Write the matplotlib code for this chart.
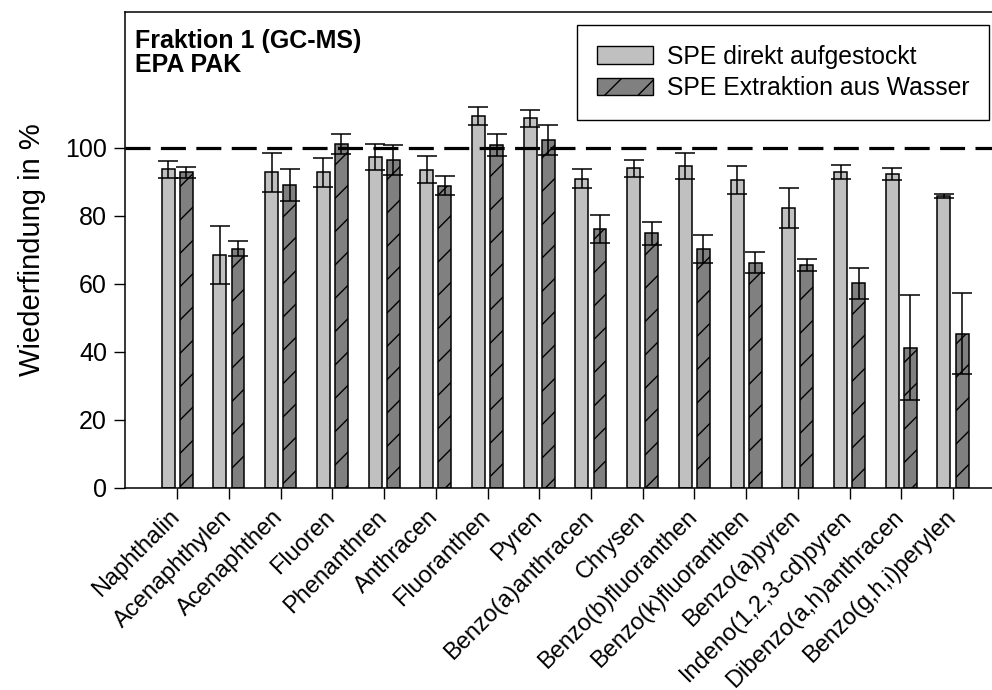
import numpy as np
import matplotlib
matplotlib.use("Agg")
import matplotlib.pyplot as plt
from matplotlib.patches import Patch
from matplotlib.transforms import ScaledTranslation

plt.rcParams['font.family'] = ['Liberation Sans', 'DejaVu Sans']
plt.rcParams['hatch.linewidth'] = 1.0
plt.rcParams['lines.scale_dashes'] = False

compounds = [
    "Naphthalin", "Acenaphthylen", "Acenaphthen", "Fluoren", "Phenanthren",
    "Anthracen", "Fluoranthen", "Pyren", "Benzo(a)anthracen", "Chrysen",
    "Benzo(b)fluoranthen", "Benzo(k)fluoranthen", "Benzo(a)pyren",
    "Indeno(1,2,3-cd)pyren", "Dibenzo(a,h)anthracen", "Benzo(g,h,i)perylen",
]

# recovery in %, SPE spiked directly
direkt_mean = [93.7, 68.5, 92.8, 92.8, 97.4, 93.6, 109.4, 108.7,
               90.9, 94.0, 94.6, 90.6, 82.4, 92.9, 92.3, 85.9]
direkt_sd = [2.5, 8.5, 5.8, 4.2, 3.8, 3.9, 2.6, 2.4,
             2.8, 2.4, 3.8, 4.0, 5.8, 2.1, 1.7, 0.6]

# recovery in %, SPE extraction from water
wasser_mean = [92.8, 70.3, 89.0, 101.1, 96.5, 88.9, 100.8, 102.3,
               76.1, 74.9, 70.3, 66.2, 65.6, 60.2, 41.3, 45.4]
wasser_sd = [1.5, 2.2, 4.7, 2.9, 4.5, 2.8, 3.2, 4.4,
             4.1, 3.3, 4.1, 3.1, 1.7, 4.5, 15.5, 12.0]

labels = ["SPE direkt aufgestockt", "SPE Extraktion aus Wasser"]

fig = plt.figure(figsize=(9.92, 6.90), dpi=100)
ax = fig.add_axes([0.126, 0.2928, 1.005 - 0.126, 0.9826 - 0.2928])

x = np.arange(len(compounds))
w = 0.25
off = 0.175
light = "#c0c0c0"
dark = "#808080"

ax.bar(x - off, direkt_mean, w, color=light, edgecolor="black", linewidth=1.1, zorder=2)
ax.bar(x + off, wasser_mean, w, color=dark, edgecolor="black", linewidth=1.1,
       hatch="/", zorder=2)

ax.errorbar(x - off, direkt_mean, yerr=direkt_sd, fmt="none", ecolor="black",
            elinewidth=1.1, capsize=7, capthick=1.1, zorder=4)
ax.errorbar(x + off, wasser_mean, yerr=wasser_sd, fmt="none", ecolor="black",
            elinewidth=1.1, capsize=7, capthick=1.1, zorder=4)

ax.axhline(100, color="black", linewidth=2.3, dashes=(18, 7.5), zorder=5)

ax.set_xlim(-1.01, 15.85)
ax.set_ylim(0, 140)
ax.set_yticks([0, 20, 40, 60, 80, 100])
ax.tick_params(axis="y", direction="out", length=8, width=1, labelsize=18, pad=5)
ax.tick_params(axis="x", direction="out", length=8, width=1, labelsize=17, pad=5)
ax.set_xticks(x)
ax.set_xticklabels(compounds, rotation=45, ha="right", va="top",
                   rotation_mode="anchor")
shift = ScaledTranslation(-6 / 72, 0, fig.dpi_scale_trans)
for lab in ax.get_xticklabels():
    lab.set_transform(lab.get_transform() + shift)
for sp in ax.spines.values():
    sp.set_linewidth(1.1)

ax.set_ylabel("Wiederfindung in %", fontsize=21, labelpad=14)

ax.text(0.012, 0.965, "Fraktion 1 (GC-MS)\nEPA PAK", transform=ax.transAxes,
        fontsize=18, fontweight="bold", ha="left", va="top", linespacing=1.0)

handles = [Patch(facecolor=light, edgecolor="black", linewidth=1.0),
           Patch(facecolor=dark, edgecolor="black", linewidth=1.0, hatch="/")]
leg = fig.legend(handles, labels, loc="upper right",
                 bbox_to_anchor=(989 / 992, 1 - 25 / 690),
                 fontsize=17.8, frameon=True, fancybox=False, framealpha=1,
                 edgecolor="black", handlelength=2.27, handleheight=0.72,
                 handletextpad=0.57, labelspacing=0.3, borderpad=0.8,
                 borderaxespad=0)
leg.get_frame().set_linewidth(1.0)

fig.savefig("out.png", dpi=100)
